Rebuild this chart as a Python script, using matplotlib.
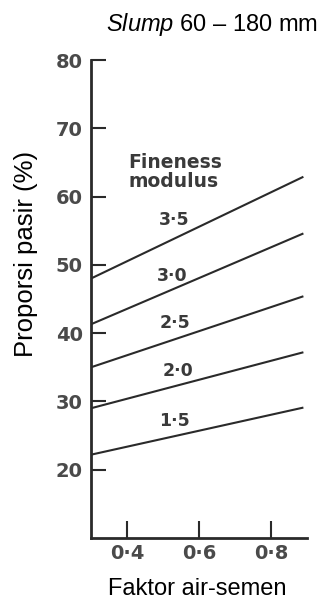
import matplotlib
matplotlib.use("Agg")
import matplotlib.pyplot as plt

plt.rcParams["mathtext.fontset"] = "custom"
plt.rcParams["mathtext.it"] = "Liberation Sans:italic"
plt.rcParams["mathtext.rm"] = "Liberation Sans"

# Sand proportion vs water-cement ratio for several fineness moduli
fineness = ["3·5", "3·0", "2·5", "2·0", "1·5"]
wc_ends = [0.30, 0.89]
sand_start = [48.0, 41.3, 35.0, 29.0, 22.2]
sand_end = [62.9, 54.6, 45.4, 37.2, 29.1]
label_pos = [(0.53, 56.6), (0.525, 48.4), (0.533, 41.5), (0.542, 34.5), (0.533, 27.2)]

yticks = [20, 30, 40, 50, 60, 70, 80]
xticks = [0.4, 0.6, 0.8]
xtick_labels = ["0·4", "0·6", "0·8"]

W, H = 323, 602
fig = plt.figure(figsize=(W / 100, H / 100), dpi=100)
ax = fig.add_axes([91 / W, 64 / H, 216 / W, 478 / H])

ink = "#2a2a2a"
for s0, s1 in zip(sand_start, sand_end):
    ax.plot(wc_ends, [s0, s1], color=ink, lw=1.5, solid_capstyle="butt")

for txt, (x, y) in zip(fineness, label_pos):
    ax.text(x, y, txt, ha="center", va="center", fontsize=12.5,
            fontweight="bold", color="#3a3a3a")

ax.text(0.403, 63.6, "Fineness\nmodulus", ha="left", va="center", fontsize=13.5,
        fontweight="bold", color="#3a3a3a", linespacing=1.05)

ax.set_xlim(0.3, 0.9)
ax.set_ylim(10, 80)
ax.set_yticks(yticks)
ax.set_yticklabels([str(v) for v in yticks])
ax.set_xticks(xticks)
ax.set_xticklabels(xtick_labels)

for side in ("top", "right"):
    ax.spines[side].set_visible(False)
for side in ("left", "bottom"):
    ax.spines[side].set_linewidth(2.0)
    ax.spines[side].set_color(ink)

ax.tick_params(axis="y", direction="in", length=11, width=1.5, pad=6,
               labelsize=14, labelcolor="#4a4a4a", color=ink)
ax.tick_params(axis="x", direction="in", length=12, width=1.5, pad=4,
               labelsize=14, labelcolor="#4a4a4a", color=ink)
for lab in ax.get_yticklabels() + ax.get_xticklabels():
    lab.set_fontweight("bold")

label_font = "Liberation Sans"
fig.text(318 / W, 1 - 24 / H, r"$\mathit{Slump}$ 60 – 180 mm", ha="right",
         va="center", fontsize=17, color="black", family=label_font)
fig.text(26 / W, 1 - 254 / H, "Proporsi pasir (%)", rotation=90, ha="center",
         va="center", fontsize=18.5, color="black", family=label_font)
fig.text(197 / W, 1 - 589 / H, "Faktor air-semen", ha="center", va="center",
         fontsize=17, color="black", family=label_font)

fig.savefig("out.png", dpi=100)
